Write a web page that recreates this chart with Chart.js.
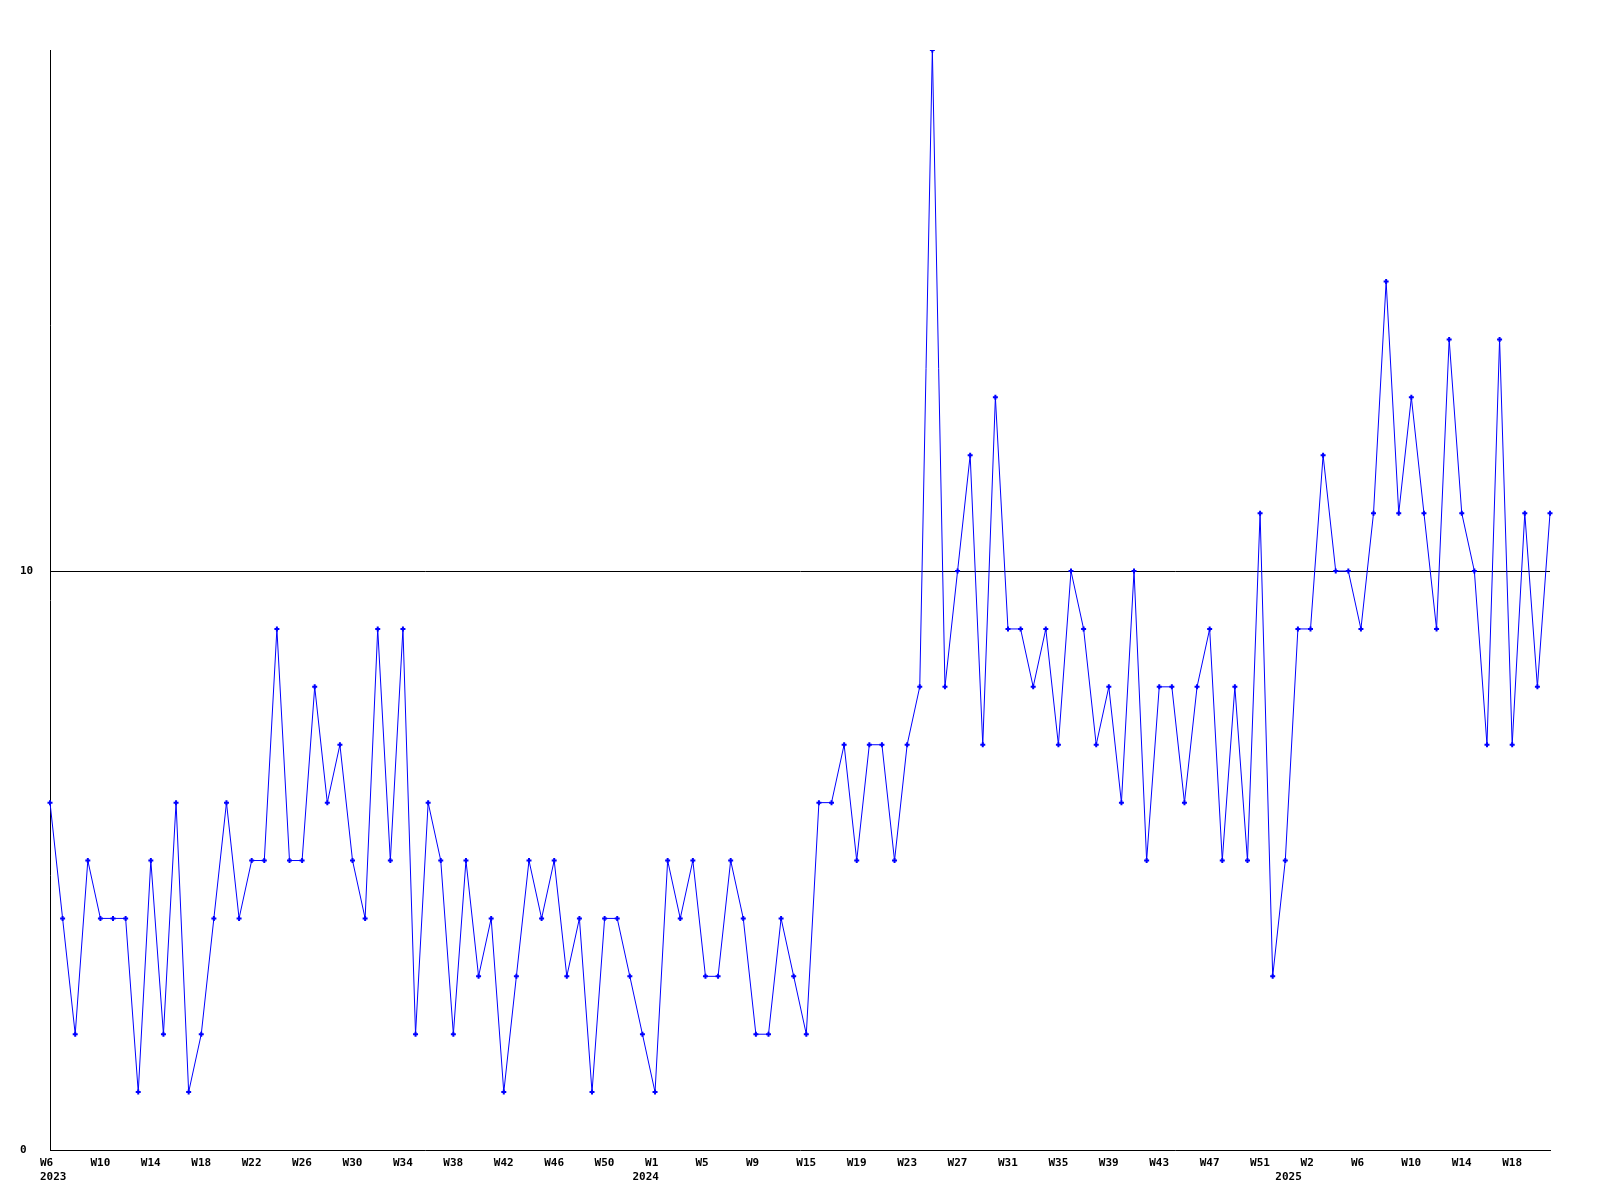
<!DOCTYPE html>
<html>
<head>
<meta charset="utf-8">
<script src="https://cdn.jsdelivr.net/npm/chart.js@4/dist/chart.umd.min.js"></script>
<style>
  html, body { margin: 0; padding: 0; background: #fff; }
  #wrap { width: 1600px; height: 1200px; }
</style>
</head>
<body>
<div id="wrap"><canvas id="c" width="1600" height="1200"></canvas></div>
<script>
// Weekly series values, from 2023-W6 to 2025-W21
const values = [
  6, 4, 2, 5, 4, 4, 4, 1, 5, 2,
  6, 1, 2, 4, 6, 4, 5, 5, 9, 5,
  5, 8, 6, 7, 5, 4, 9, 5, 9, 2,
  6, 5, 2, 5, 3, 4, 1, 3, 5, 4,
  5, 3, 4, 1, 4, 4, 3, 2, 1, 5,
  4, 5, 3, 3, 5, 4, 2, 2, 4, 3,
  2, 6, 6, 7, 5, 7, 7, 5, 7, 8,
  19, 8, 10, 12, 7, 13, 9, 9, 8, 9,
  7, 10, 9, 7, 8, 6, 10, 5, 8, 8,
  6, 8, 9, 5, 8, 5, 11, 3, 5, 9,
  9, 12, 10, 10, 9, 11, 15, 11, 13, 11,
  9, 14, 11, 10, 7, 14, 7, 11, 8, 11
];
// X tick labels, one every 4th point
const weekTicks = [
  'W6', 'W10', 'W14', 'W18', 'W22', 'W26', 'W30', 'W34', 'W38', 'W42',
  'W46', 'W50', 'W1', 'W5', 'W9', 'W15', 'W19', 'W23', 'W27', 'W31',
  'W35', 'W39', 'W43', 'W47', 'W51', 'W2', 'W6', 'W10', 'W14', 'W18'
];
// Year labels and the point they sit under
const yearLabels = ['2023', '2024', '2025'];
const yearPoints = [0, 47, 98];
const yTicks = [0, 10];
const yMax = 19;

const categories = values.map((_, i) => {
  const week = (i % 4 === 0) ? weekTicks[i / 4] : '';
  const yk = yearPoints.indexOf(i);
  if (yk >= 0) return [week, yearLabels[yk]];
  return week;
});

Chart.defaults.font.family = "'DejaVu Sans Mono', 'Liberation Mono', monospace";
Chart.defaults.font.size = 11;
Chart.defaults.font.weight = 'bold';
Chart.defaults.color = '#000';

new Chart(document.getElementById('c'), {
  type: 'line',
  data: {
    labels: categories,
    datasets: [{
      data: values,
      borderColor: '#0000ff',
      backgroundColor: '#0000ff',
      borderWidth: 1,
      tension: 0,
      fill: false,
      pointStyle: 'cross',
      pointRadius: 2.5,
      pointBorderWidth: 2,
      pointBorderColor: '#0000ff',
      pointHoverRadius: 2.5
    }]
  },
  options: {
    responsive: false,
    animation: false,
    events: [],
    layout: { padding: { left: 20, top: 50, right: 50, bottom: 0 } },
    plugins: { legend: { display: false }, tooltip: { enabled: false }, title: { display: false } },
    scales: {
      x: {
        type: 'category',
        offset: false,
        grid: { display: false, drawTicks: false },
        border: { display: true, color: '#000', width: 1 },
        ticks: {
          autoSkip: false,
          maxRotation: 0,
          minRotation: 0,
          align: 'start',
          labelOffset: -10,
          padding: 6,
          font: { lineHeight: 1.3 }
        },
        afterFit: (s) => { s.height = 50; }
      },
      y: {
        min: 0,
        max: yMax,
        afterBuildTicks: (s) => { s.ticks = yTicks.map(v => ({ value: v })); },
        grid: {
          drawTicks: false,
          color: (ctx) => (ctx.tick && ctx.tick.value === 10) ? '#000' : 'rgba(0,0,0,0)',
          lineWidth: 1
        },
        border: { display: true, color: '#000', width: 1 },
        ticks: {
          crossAlign: 'far',
          padding: 17
        },
        afterFit: (s) => { s.width = 30; }
      }
    }
  }
});
</script>
</body>
</html>
